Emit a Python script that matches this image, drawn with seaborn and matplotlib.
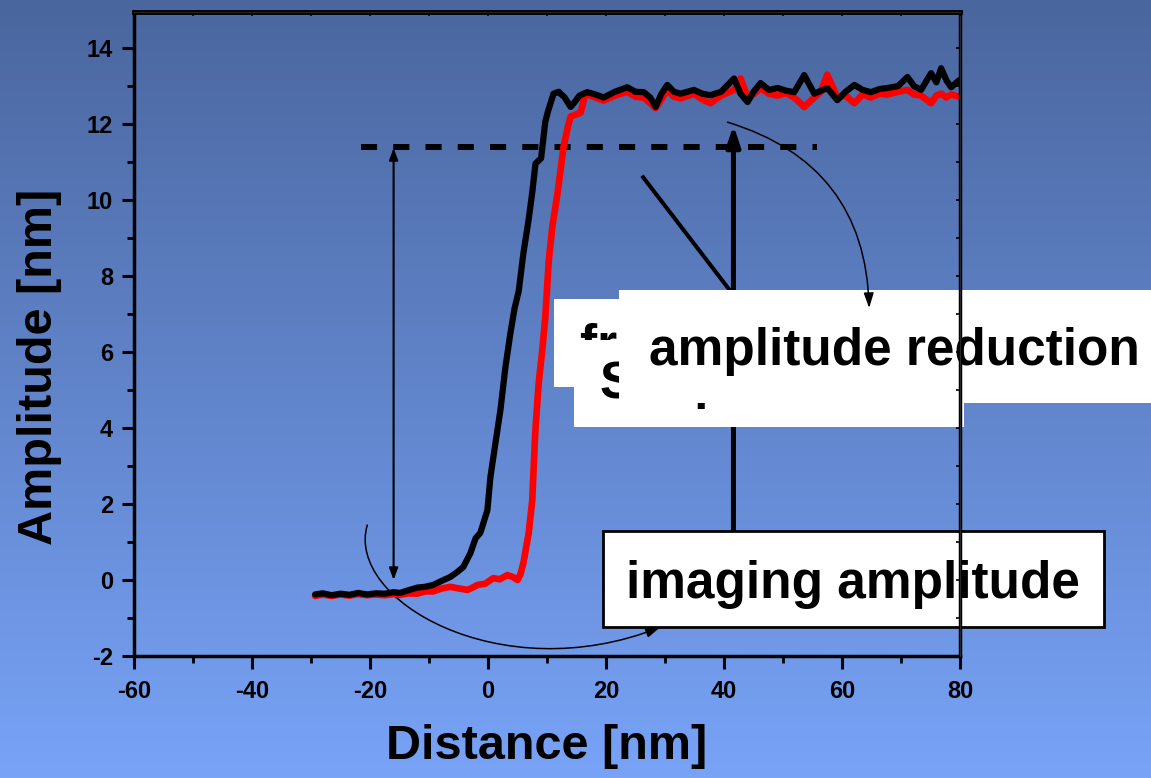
import numpy as np
import pandas as pd
import matplotlib
matplotlib.use('Agg')
import matplotlib.pyplot as plt
import seaborn as sns
from matplotlib.patches import Rectangle, FancyArrowPatch
from matplotlib.path import Path

# amplitude vs distance curves
black_x = [-29.3, -28, -26.5, -25, -23.5, -22, -20.5, -19, -17.5, -16, -14.9, -13.5, -12, -10.7,
           -9.3, -7.8, -6.4, -5.3, -4.2, -3.0, -2.1, -1.3, -0.1, 0.4, 1.26, 2.1, 2.95, 3.8, 4.5,
           5.2, 6.0, 6.9, 7.5, 8.05, 9.0, 9.7, 10.1, 11.1, 12.0, 12.3, 13.0, 14.0, 14.55, 15.5,
           16.8, 18.2, 19.6, 21.5, 23.6, 25.0, 26.4, 27.5, 28.4, 29.4, 30.4, 31.5, 32.65, 34.9,
           36.3, 37.7, 39.5, 41.7, 42.8, 44.0, 45.0, 46.2, 47.6, 49.1, 50.5, 51.9, 53.6, 55.3,
           57.5, 59.2, 60.6, 62.1, 63.5, 64.9, 66.3, 67.7, 69.5, 71.1, 72.2, 73.4, 75.1, 76.0,
           76.8, 77.7, 78.5, 79.9]
black_y = [-0.38, -0.35, -0.40, -0.36, -0.39, -0.34, -0.38, -0.35, -0.36, -0.32, -0.34, -0.27, -0.20, -0.18,
           -0.13, -0.02, 0.08, 0.20, 0.34, 0.70, 1.10, 1.24, 1.84, 2.70, 3.60, 4.47, 5.60, 6.50, 7.15,
           7.60, 8.60, 9.50, 10.20, 10.96, 11.10, 12.05, 12.30, 12.80, 12.85, 12.80, 12.70, 12.45, 12.55, 12.75,
           12.84, 12.78, 12.70, 12.85, 12.97, 12.85, 12.84, 12.70, 12.45, 12.80, 13.03, 12.85, 12.80, 12.90,
           12.80, 12.76, 12.85, 13.20, 12.80, 12.58, 12.85, 13.08, 12.90, 12.95, 12.88, 12.84, 13.29, 12.80,
           12.95, 12.63, 12.85, 13.03, 12.90, 12.84, 12.92, 12.95, 13.00, 13.24, 13.00, 12.90, 13.34, 13.10,
           13.47, 13.15, 12.97, 13.16]

red_x = [-29.3, -28, -26.5, -25, -23.5, -22, -20.5, -19, -17.5, -16, -14.9, -13.5, -12, -10.7,
         -9.3, -7.8, -6.4, -5.0, -3.5, -2.6, -1.8, -0.5, 0.9, 2.0, 3.3, 4.2, 5.0, 5.5, 6.0, 6.9,
         7.5, 8.0, 8.6, 9.2, 9.7, 10.3, 10.9, 11.8, 12.8, 13.5, 14.0, 15.7, 16.5, 18.2, 19.6,
         21.5, 23.6, 25.0, 26.4, 27.5, 28.4, 29.4, 30.4, 31.5, 32.65, 34.9, 36.3, 37.7, 39.5,
         41.7, 42.8, 44.0, 45.0, 46.2, 47.6, 49.1, 50.5, 51.9, 53.6, 55.3, 56.4, 57.5, 59.2,
         60.6, 62.1, 63.5, 64.9, 66.3, 67.7, 69.5, 71.1, 72.2, 73.4, 75.1, 76.0, 76.8, 77.7,
         78.5, 79.9]
red_y = [-0.42, -0.38, -0.42, -0.38, -0.41, -0.37, -0.40, -0.38, -0.40, -0.37, -0.39, -0.35, -0.36, -0.30,
         -0.30, -0.22, -0.18, -0.22, -0.26, -0.20, -0.13, -0.10, 0.05, 0.02, 0.13, 0.08, 0.00, 0.15, 0.45, 1.24,
         2.10, 3.87, 5.20, 6.05, 6.90, 8.40, 9.30, 10.20, 11.40, 11.90, 12.20, 12.30, 12.80, 12.70, 12.62,
         12.75, 12.85, 12.72, 12.70, 12.55, 12.42, 12.65, 12.90, 12.72, 12.68, 12.80, 12.65, 12.55, 12.75,
         12.90, 13.20, 12.70, 12.78, 12.95, 12.80, 12.75, 12.82, 12.70, 12.45, 12.70, 12.85, 13.30, 12.70,
         12.75, 12.55, 12.78, 12.70, 12.80, 12.78, 12.85, 12.90, 12.78, 12.75, 12.55, 12.75, 12.80, 12.70,
         12.78, 12.72]

x_ticks = [-60, -40, -20, 0, 20, 40, 60, 80]
y_ticks = [-2, 0, 2, 4, 6, 8, 10, 12, 14]

setpoint = 11.4        # dashed line level
marker_x = -16         # thin double arrow
amp_arrow_x = 41.6     # thick arrow

sns.set_style('ticks')
plt.rcParams['font.family'] = ['Liberation Sans', 'DejaVu Sans']
plt.rcParams['axes.unicode_minus'] = False
plt.rcParams['text.color'] = 'black'
plt.rcParams['axes.labelcolor'] = 'black'
plt.rcParams['xtick.color'] = 'black'
plt.rcParams['ytick.color'] = 'black'

W, H = 1151, 778
fig = plt.figure(figsize=(W / 100, H / 100), dpi=100)

# blue gradient background
bg = fig.add_axes([0, 0, 1, 1], zorder=-1)
top_c = np.array([74, 102, 158]) / 255
bot_c = np.array([120, 163, 247]) / 255
t = np.linspace(0, 1, 256)[:, None, None]
grad = top_c * (1 - t) + bot_c * t
bg.imshow(grad, aspect='auto', extent=[0, 1, 0, 1])
bg.axis('off')

ax = fig.add_axes([134 / W, 1 - 656 / H, 826 / W, 644 / H])
ax.patch.set_alpha(0)

df_red = pd.DataFrame({'x': red_x, 'y': red_y})
df_black = pd.DataFrame({'x': black_x, 'y': black_y})
sns.lineplot(data=df_red, x='x', y='y', color='#ff0000', lw=4.8, sort=False, ax=ax,
             solid_joinstyle='round', solid_capstyle='round')
sns.lineplot(data=df_black, x='x', y='y', color='black', lw=4.5, sort=False, ax=ax,
             solid_joinstyle='round', solid_capstyle='round')

ax.set_xlim(-60, 80)
ax.set_ylim(-2, 14.95)
ax.set_xticks(x_ticks)
ax.set_yticks(y_ticks)
ax.set_xticks(np.arange(-50, 80, 20), minor=True)
ax.set_yticks(np.arange(-1, 15, 2), minor=True)
ax.tick_params(axis='x', which='major', direction='out', length=9, width=2.2, pad=8, labelsize=17, colors='black')
ax.tick_params(axis='y', which='major', direction='out', length=9, width=2.2, pad=6, labelsize=17, colors='black')
ax.tick_params(which='minor', direction='out', length=5, width=2)
for lab in ax.get_xticklabels() + ax.get_yticklabels():
    lab.set_fontweight('bold')
for side in ['left', 'bottom', 'right']:
    ax.spines[side].set_linewidth(2.5)
    ax.spines[side].set_color('black')
ax.spines['top'].set_linewidth(3.5)
ax.spines['top'].set_color('black')

ax.set_xlabel('Distance [nm]', fontsize=35, fontweight='bold', color='black')
ax.set_ylabel('Amplitude [nm]', fontsize=35, fontweight='bold', color='black')
ax.xaxis.set_label_coords(0.5, -0.105)
ax.yaxis.set_label_coords(-0.087, 0.449)

# small inward ticks on the right and top edges
sec_y = ax.secondary_yaxis('right')
sec_y.set_yticks(np.arange(-2, 15, 1))
sec_y.tick_params(direction='in', length=3, width=1.2, labelright=False)
sec_y.set_zorder(2.6)
sec_x = ax.secondary_xaxis('top')
sec_x.set_xticks(np.arange(-60, 81, 10))
sec_x.tick_params(direction='in', length=3, width=1.2, labeltop=False)
sec_x.set_zorder(2.6)

# annotation arrows and lines
ax.plot([-21.5, 55.8], [setpoint, setpoint], color='black', lw=4.3, dashes=(2.7, 2.7),
        solid_capstyle='butt', zorder=1.9)
ax.add_patch(FancyArrowPatch((marker_x, 0.0), (marker_x, setpoint - 0.03),
                             arrowstyle='<|-|>,head_length=0.35,head_width=0.13', mutation_scale=20,
                             lw=1.5, color='black', shrinkA=0, shrinkB=0, zorder=1.9))
ax.add_patch(FancyArrowPatch((amp_arrow_x, 0.5), (amp_arrow_x, 11.97),
                             arrowstyle='-|>,head_length=0.6,head_width=0.2', mutation_scale=20,
                             lw=3.6, color='black', shrinkA=0, shrinkB=0, zorder=1.9))
ax.plot([26.1, 41.6], [10.64, 7.5], color='black', lw=2.9, solid_capstyle='butt', zorder=1.9)
ax.add_patch(FancyArrowPatch((40.6, 12.05), (64.6, 7.16), connectionstyle='arc3,rad=-0.36',
                             arrowstyle='-|>,head_length=0.45,head_width=0.15', mutation_scale=20,
                             lw=1.1, color='black', shrinkA=0, shrinkB=0, zorder=2.4))
curve = Path([(-20.46, 1.447), (-24.2, -0.526), (2.11, -2.895), (29.26, -1.237)],
             [Path.MOVETO, Path.CURVE4, Path.CURVE4, Path.CURVE4])
ax.add_patch(FancyArrowPatch(path=curve, arrowstyle='-|>,head_length=0.45,head_width=0.15',
                             mutation_scale=20, lw=1.1, color='black', zorder=1.9, clip_on=False))


def box(x0, y0, x1, y1, z, edge=False):
    r = Rectangle((x0 / W, 1 - y1 / H), (x1 - x0) / W, (y1 - y0) / H, transform=fig.transFigure,
                  facecolor='white', edgecolor='black' if edge else 'none', lw=2 if edge else 0,
                  zorder=z, clip_on=False)
    ax.add_artist(r)


def label(x, y, s, z):
    ax.text(x / W, 1 - y / H, s, transform=fig.transFigure, ha='left', va='baseline',
            fontsize=37, fontweight='bold', color='black', zorder=z, clip_on=False)


box(554, 299, 900, 387, 2.10)
label(580, 361, 'free amplitude', 2.11)
box(574, 340, 964, 427, 2.20)
label(600, 398, 'Set point', 2.21)
box(619, 290, 1170, 403, 2.30)
label(649, 365, 'amplitude reduction', 2.31)
box(603, 531, 1104, 627, 2.30, edge=True)
label(626, 598, 'imaging amplitude', 2.31)

fig.savefig('out.png', dpi=100)
